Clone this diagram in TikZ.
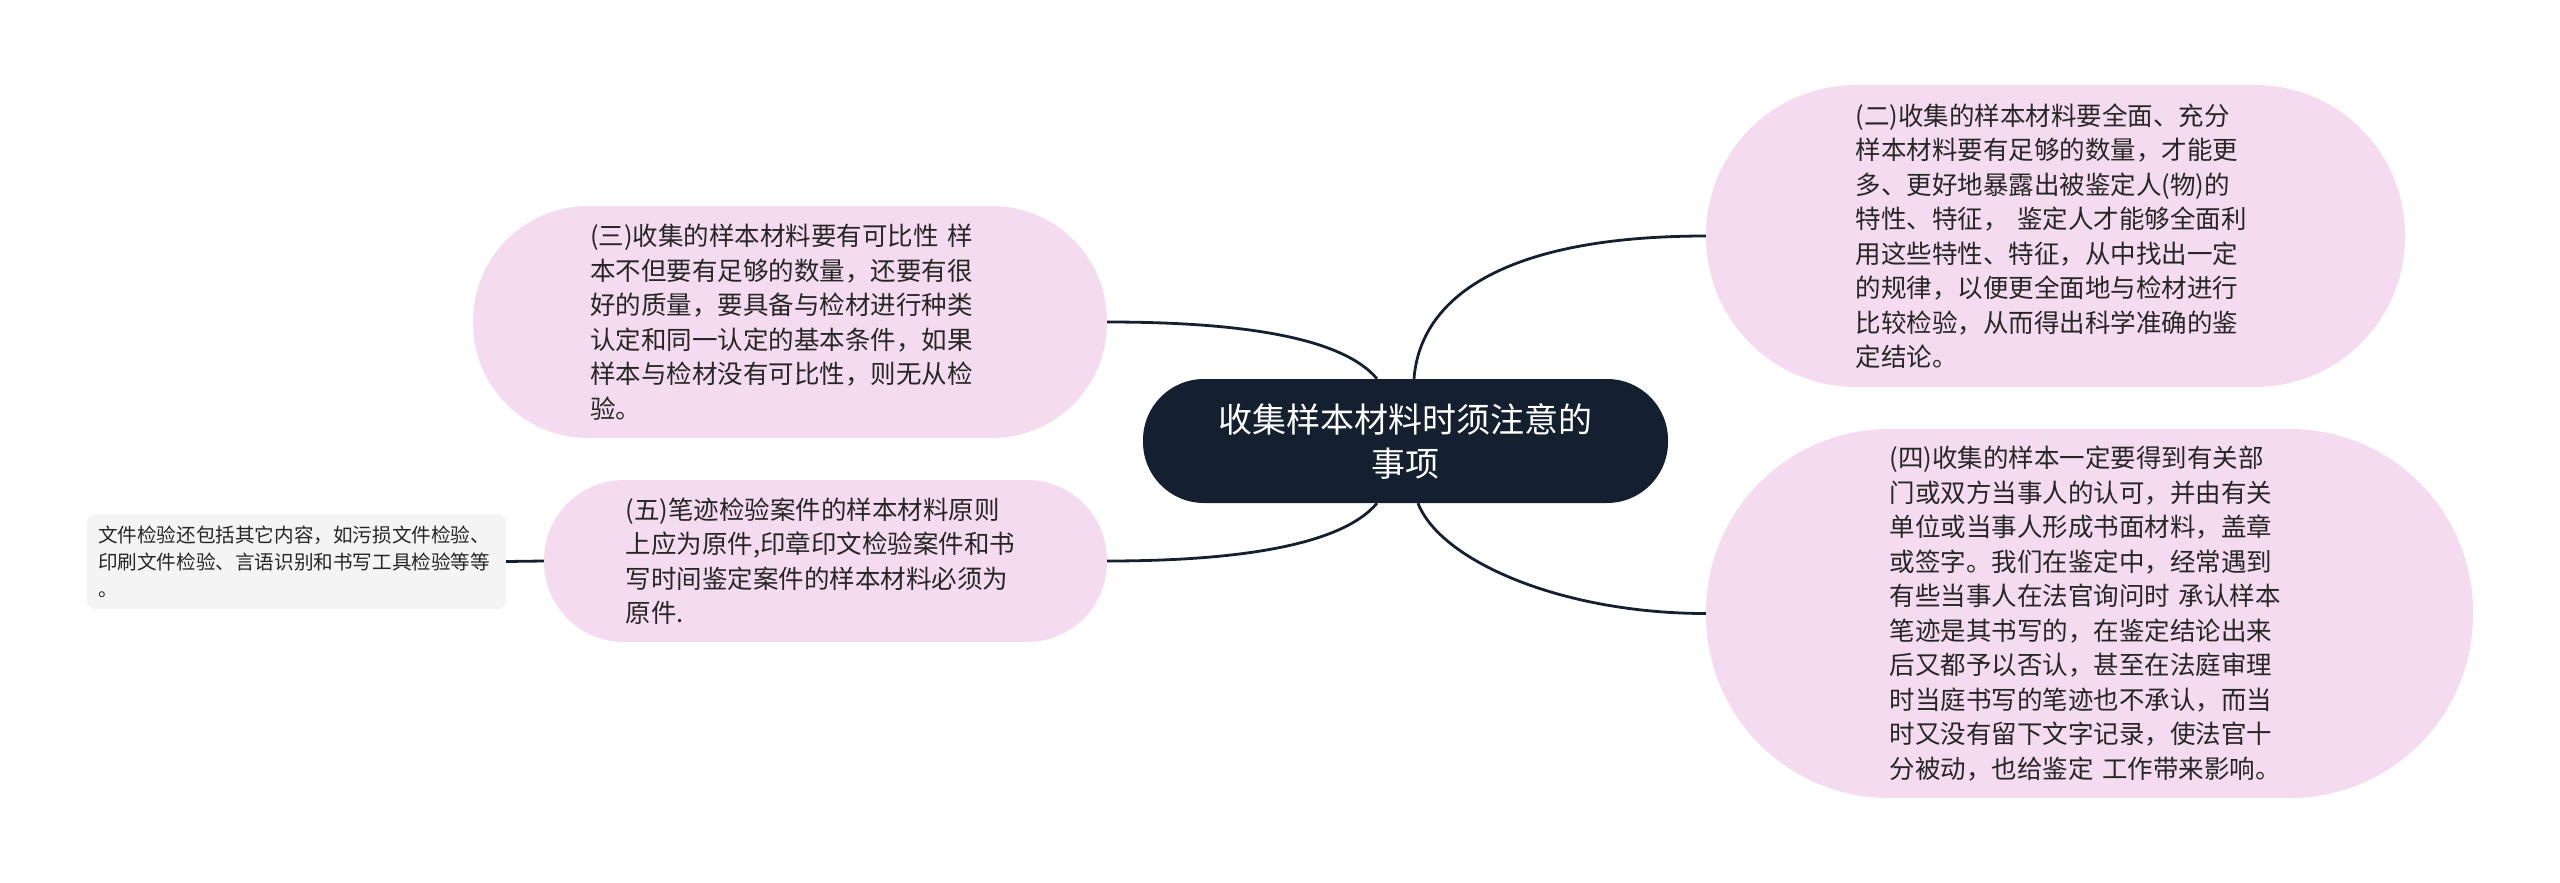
\documentclass[tikz,border=0pt]{standalone}
\usepackage{fontspec}
\setmainfont{Noto Sans CJK SC}
\usetikzlibrary{calc}
\definecolor{pinkfill}{HTML}{F5DBEF}
\definecolor{navy}{HTML}{142030}
\definecolor{leaffill}{HTML}{F4F4F5}
\definecolor{txt}{HTML}{262626}
\tikzset{
  branch/.style={fill=pinkfill, text=txt, font={\fontsize{25.5pt}{34.5pt}\selectfont},
    align=left, text width=400pt, inner sep=0pt},
  root/.style={fill=navy, text=white, font={\fontsize{34pt}{44pt}\selectfont},
    align=center, inner sep=0pt, minimum width=525pt, minimum height=124pt, rounded corners=61pt},
  leafbox/.style={fill=leaffill, text=txt, font={\fontsize{19.6pt}{27pt}\selectfont},
    align=left, text width=397pt, inner sep=0pt, minimum width=419pt, minimum height=95pt, rounded corners=8pt},
  link/.style={draw=navy, line width=2.8pt}
}
\begin{document}
\begin{tikzpicture}[x=1pt, y=-1pt]
\useasboundingbox (0,0) rectangle (2560,883);
\node[root] (c) at (1405.5,441) {收集样本材料时须注意的\\事项};
\node[branch, minimum width=699pt, minimum height=302pt, rounded corners=150pt] (t2) at (2055.5,236)
 {(二)收集的样本材料要全面、充分\\样本材料要有足够的数量，才能更\\多、更好地暴露出被鉴定人(物)的\\特性、特征，~鉴定人才能够全面利\\用这些特性、特征，从中找出一定\\的规律，以便更全面地与检材进行\\比较检验，从而得出科学准确的鉴\\定结论。};
\node[branch, minimum width=767pt, minimum height=369pt, rounded corners=183pt] (t4) at (2089.5,613.5)
 {(四)收集的样本一定要得到有关部\\门或双方当事人的认可，并由有关\\单位或当事人形成书面材料，盖章\\或签字。我们在鉴定中，经常遇到\\有些当事人在法官询问时~承认样本\\笔迹是其书写的，在鉴定结论出来\\后又都予以否认，甚至在法庭审理\\时当庭书写的笔迹也不承认，而当\\时又没有留下文字记录，使法官十\\分被动，也给鉴定~工作带来影响。};
\node[branch, minimum width=634pt, minimum height=232pt, rounded corners=115pt] (t3) at (790,322)
 {(三)收集的样本材料要有可比性~样\\本不但要有足够的数量，还要有很\\好的质量，要具备与检材进行种类\\认定和同一认定的基本条件，如果\\样本与检材没有可比性，则无从检\\验。};
\node[branch, minimum width=563pt, minimum height=162pt, rounded corners=80pt] (t5) at (825.5,561)
 {(五)笔迹检验案件的样本材料原则\\上应为原件,印章印文检验案件和书\\写时间鉴定案件的样本材料必须为\\原件.};
\node[leafbox] (leaf) at (296.5,561.5)
 {文件检验还包括其它内容，如污损文件检验、\\印刷文件检验、言语识别和书写工具检验等等\\。};
\coordinate (cA) at ($(c.north)+(-28.5,0)$);
\coordinate (cB) at ($(c.north)+(8.5,0)$);
\coordinate (cC) at ($(c.south)+(-28.5,0)$);
\coordinate (cD) at ($(c.south)+(12.5,0)$);
\draw[link] (cA) .. controls ($(cA)+(-37,-44)$) and ($(cA |- t3.east)+(-147,0)$) .. (t3.east);
\draw[link] (cB) .. controls ($(cB)+(6,-79)$) and ($(cB |- t2.west)+(86,0)$) .. (t2.west);
\draw[link] (cC) .. controls ($(cC)+(-37,44)$) and ($(cC |- t5.east)+(-147,0)$) .. (t5.east);
\draw[link] (cD) .. controls ($(cD)+(22,57)$) and ($(cD |- t4.west)+(142,0)$) .. (t4.west);
\draw[link] (t5.west) -- (leaf.east);
\end{tikzpicture}
\end{document}
